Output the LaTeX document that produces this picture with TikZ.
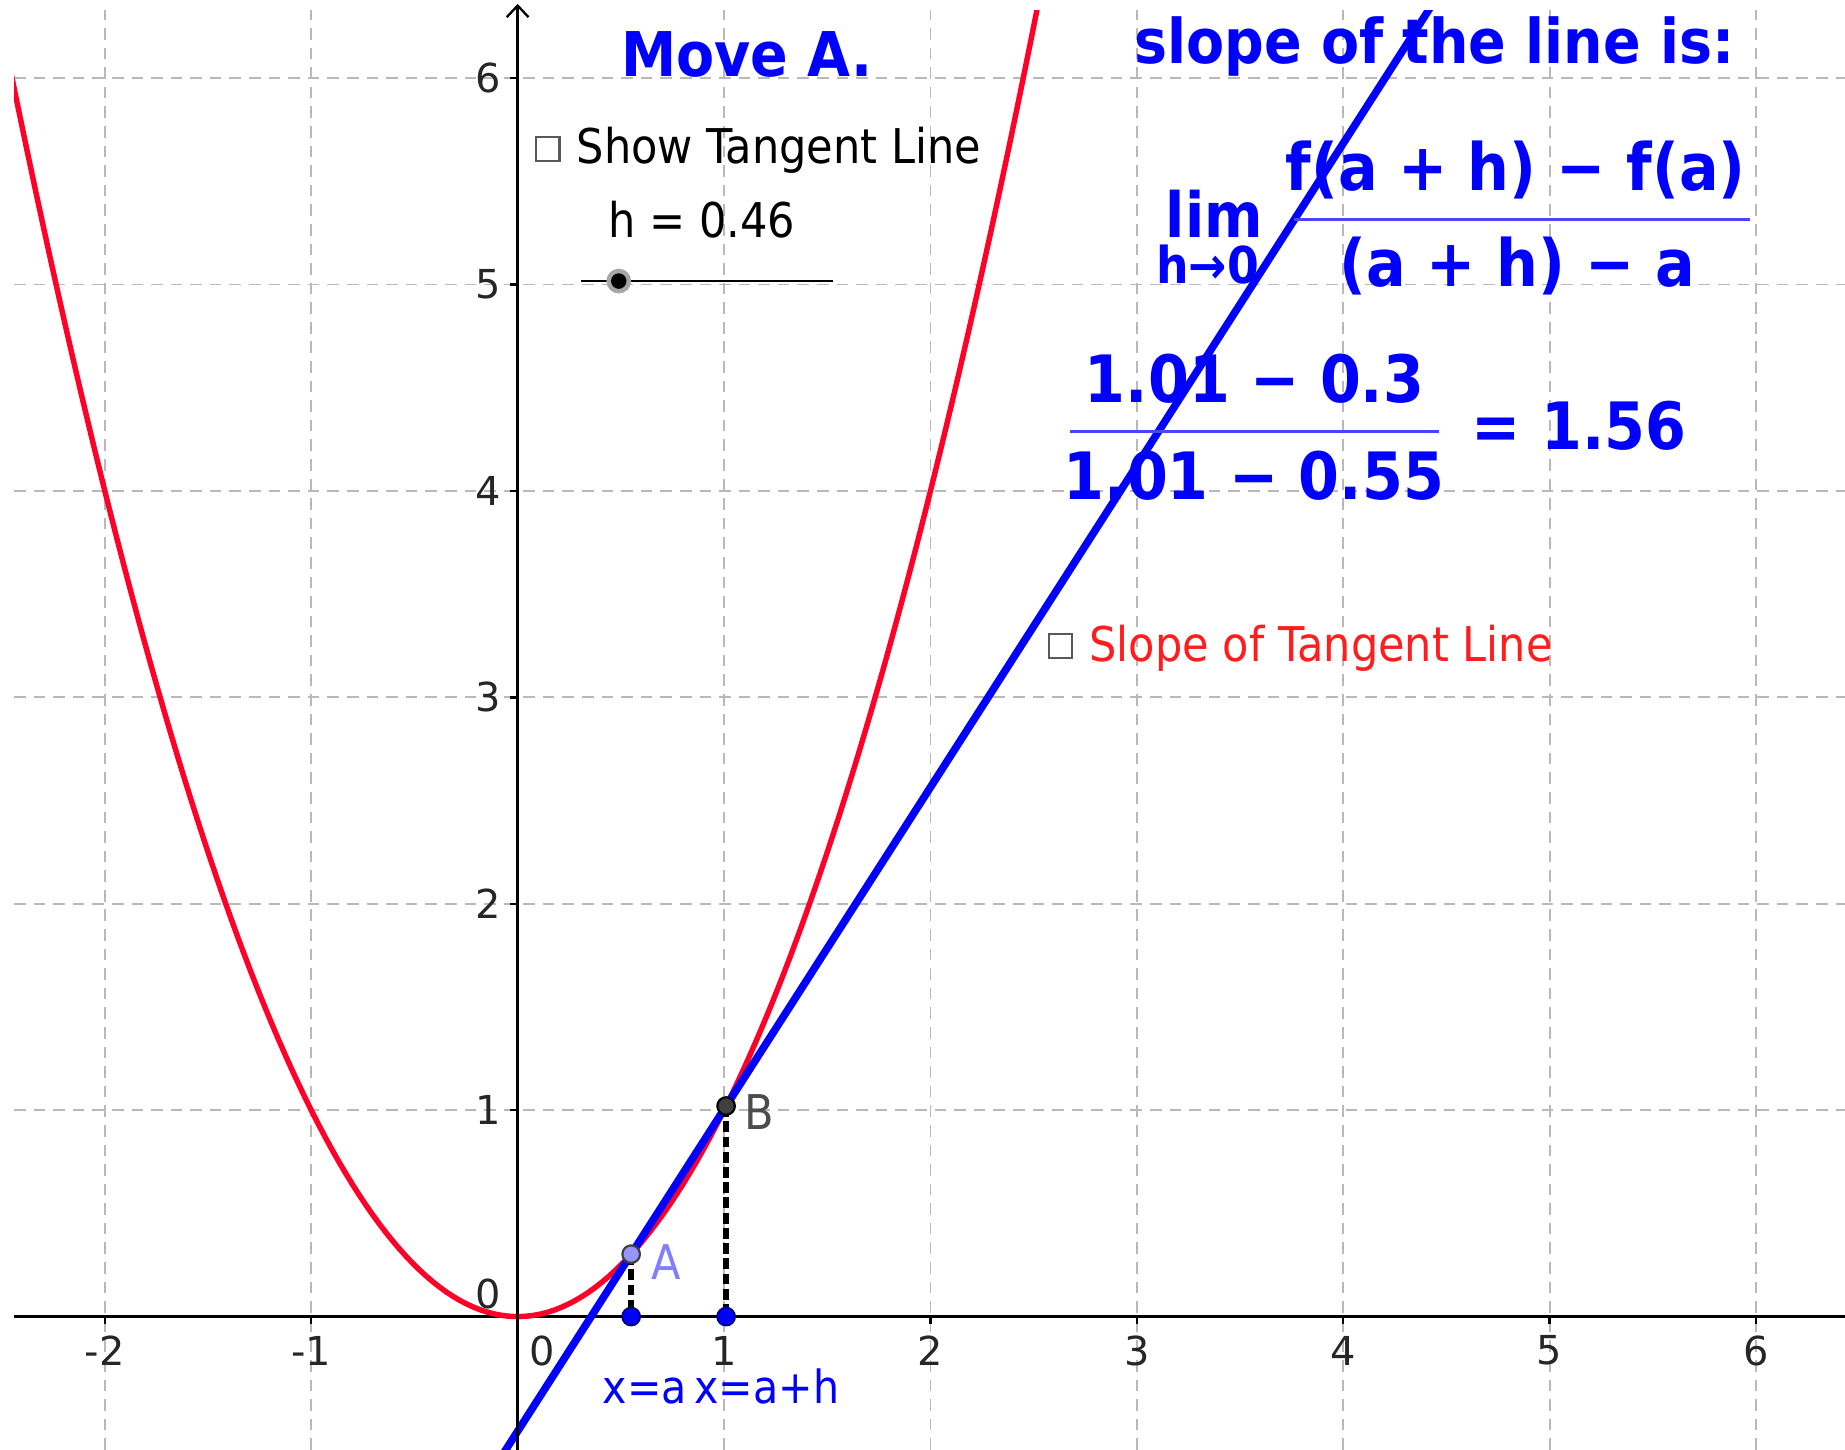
\documentclass[tikz,border=0pt]{standalone}
\usepackage{fontspec}
\setmainfont{DejaVu Sans}
\newfontfamily\cnd[FakeStretch=0.9]{DejaVu Sans}
\usetikzlibrary{arrows.meta}
\definecolor{ggblue}{RGB}{0,0,255}
\definecolor{barblue}{RGB}{70,70,255}
\definecolor{ggred}{RGB}{255,0,40}
\definecolor{lblred}{RGB}{255,30,30}
\definecolor{gridgray}{RGB}{185,185,185}
\definecolor{alabel}{RGB}{128,128,255}
\definecolor{afill}{RGB}{150,150,255}
\begin{document}
\begin{tikzpicture}[x=1cm,y=1cm,
  gridline/.style={draw=gridgray, line width=0.25pt, dash pattern=on 1.6pt off 1.1pt},
  axisline/.style={draw=black, line width=0.32pt},
  ticklbl/.style={font=\fontsize{5.5}{6}\selectfont, text=black!85, inner sep=0pt},
  title/.style={font=\cnd\bfseries\fontsize{8.5}{10}\selectfont, text=ggblue, inner sep=0pt, anchor=base west},
  mathtxt/.style={font=\cnd\bfseries\fontsize{9}{10}\selectfont, text=ggblue, inner sep=0pt, anchor=base},
  plain/.style={font=\cnd\fontsize{6.6}{8}\selectfont, inner sep=0pt, anchor=base west},
  fracbar/.style={draw=barblue, line width=0.45pt},
  chkbox/.style={draw=black!65, line width=0.3pt, fill=white, minimum size=0.115cm, inner sep=0pt},
  pt/.style={circle, inner sep=0pt, minimum size=0.085cm, line width=0.3pt},
  footdash/.style={draw=black, line width=0.8pt, dash pattern=on 1.5pt off 0.6pt}]
\useasboundingbox (-2.508,-0.646) rectangle (6.431,6.379);
\fill[white] (-2.508,-0.646) rectangle (6.431,6.379);
\begin{scope}
\clip (-2.44,-0.646) rectangle (6.431,6.33);
\foreach \x in {-2,...,6} \draw[gridline] (\x,-0.646) -- (\x,6.33);
\foreach \y in {1,...,6} \draw[gridline] (-2.44,\y) -- (6.431,\y);
\draw[axisline] (-2.44,0) -- (6.431,0);
\foreach \x in {-2,...,6} \draw[axisline] (\x,0) -- (\x,-0.035);
\foreach \y in {1,...,6} \draw[axisline] (0,\y) -- (-0.035,\y);
\draw[ggred, line width=0.75pt] plot[domain=-2.6:2.6, samples=160] (\x,{\x*\x});
\draw[ggblue, line width=1.05pt] plot[domain=-0.2:4.6, samples=2] (\x,{0.3025+1.56*(\x-0.55)});
\end{scope}
\draw[axisline, -{Straight Barb[length=1.6pt,width=3pt]}] (0,-0.646) -- (0,6.36);
% tick labels
\foreach \x in {-2,-1,1,2,3,4,5,6} \node[ticklbl] (xl\x) at (\x,-0.165) {\x};
\node[ticklbl] (xl0) at (0.12,-0.165) {0};
\foreach \y in {1,...,6} \node[ticklbl, anchor=east] (yl\y) at (-0.075,\y) {\y};
\node[ticklbl, anchor=east] (yl0) at (-0.075,0.108) {0};
% points and feet
\coordinate (a) at (0.55,0.3025);
\coordinate (b) at (1.01,1.0201);
\coordinate (ax) at (0.55,0);
\coordinate (bx) at (1.01,0);
\draw[footdash] (a) -- (ax);
\draw[footdash] (b) -- (bx);
\node[pt, fill=afill, draw=black!75] (A) at (a) {};
\node[pt, fill=black!75, draw=black] (B) at (b) {};
\node[pt, fill=ggblue, draw=blue!60!black] (Ax) at (ax) {};
\node[pt, fill=ggblue, draw=blue!60!black] (Bx) at (bx) {};
\node[plain, text=alabel, anchor=west] (Alab) at (0.64,0.263) {A};
\node[plain, text=black!70, anchor=west] (Blab) at (1.09,0.993) {B};
\node[plain, text=ggblue, font=\cnd\fontsize{6.3}{8}\selectfont] (xa) at (0.405,-0.42) {x=a};
\node[plain, text=ggblue, font=\cnd\fontsize{6.3}{8}\selectfont] (xah) at (0.85,-0.42) {x=a+h};
% texts
\node[title] (move) at (0.496,6.01) {Move A.};
\node[title] (slope) at (2.980,6.073) {slope of the line is:};
\node[chkbox] (cb1) at (0.145,5.656) {};
\node[plain] (show) at (0.279,5.588) {Show Tangent Line};
\node[plain] (hval) at (0.433,5.228) {h = 0.46};
\coordinate (s1) at (0.308,5.017);
\coordinate (s2) at (1.527,5.017);
\draw[black, line width=0.3pt] (s1) -- (s2);
\node[circle, fill=black!35, inner sep=0pt, minimum size=0.12cm] (knobhalo) at (0.490,5.017) {};
\node[circle, fill=black, inner sep=0pt, minimum size=0.075cm] (knob) at (0.490,5.017) {};
\node[chkbox] (cb2) at (2.630,3.248) {};
\node[plain, text=lblred] (stl) at (2.764,3.174) {Slope of Tangent Line};
% limit formula
\node[mathtxt, anchor=base west, font=\cnd\bfseries\fontsize{8.6}{10}\selectfont] (lim) at (3.134,5.228) {lim};
\node[mathtxt, anchor=base west, font=\cnd\bfseries\fontsize{7}{8}\selectfont] (hto) at (3.088,5.006) {h→0};
\node[mathtxt] (num1) at (4.835,5.457) {f(a + h) − f(a)};
\draw[fracbar] (3.761,5.314) -- (5.972,5.314);
\node[mathtxt] (den1) at (4.843,4.989) {(a + h) − a};
\node[mathtxt] (num2) at (3.570,4.429) {1.01 − 0.3};
\draw[fracbar] (2.678,4.287) -- (4.462,4.287);
\node[mathtxt] (den2) at (3.567,3.961) {1.01 − 0.55};
\node[mathtxt, anchor=base west] (res) at (4.615,4.201) {= 1.56};
\end{tikzpicture}
\end{document}
